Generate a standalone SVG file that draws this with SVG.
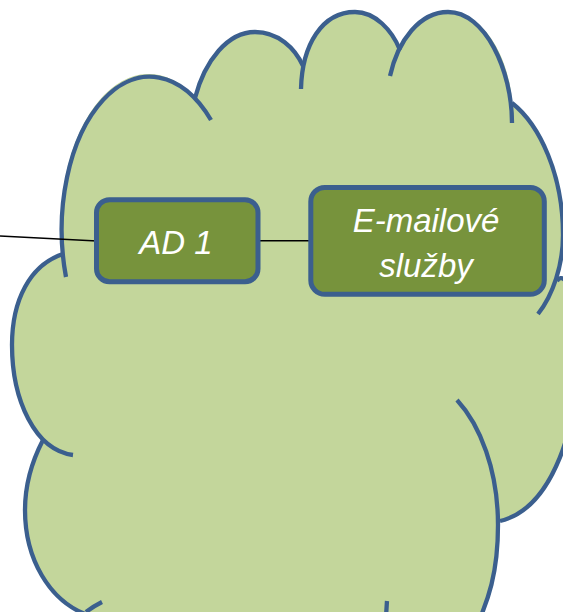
<svg xmlns="http://www.w3.org/2000/svg" width="563" height="612" viewBox="0 0 563 612">
<style>
.lobe{fill:none;stroke:#3B5F8E;stroke-width:4.3;stroke-linecap:butt}
.box{fill:#77933C;stroke:#3B5F8E;stroke-width:5}
.lbl{font-family:"Liberation Sans",Arial,sans-serif;font-style:italic;font-size:33px;fill:#FFFFFF;text-anchor:middle}
.conn{stroke:#000000;stroke-width:1.6;fill:none}
</style>
<g id="cloud">
<path d="M62,254 A88,153 0 0 1 195,97 C205,60 228,32 255,32 C278,32 295,48 303,65 C308,35 328,12 355,12 C375,12 392,30 400,50 C415,22 430,12 448,12 C485,12 510,60 512,103 C540,125 563,175 563,235 C563,255 560,270 557,281 C566,268 578,300 578,360 C578,420 555,508 500,521 C499,570 490,600 470,640 L90,640 L85,614 C50,600 25,560 25,510 C25,490 30,465 43,440 C25,425 12,390 12,345 C12,300 30,265 62,254 Z" fill="#C3D69B" stroke="none"/>
<path class="lobe" d="M66,277 A88,153 0 0 1 211,120"/>
<path class="lobe" d="M195,98 C205,60 228,32 255,32 C278,32 295,48 303,66"/>
<path class="lobe" d="M301,89 C302,45 322,12 355,12 C375,12 392,30 400,50"/>
<path class="lobe" d="M390,76 C398,40 420,12 448,12 C485,12 512,70 512,123"/>
<path class="lobe" d="M512,103 C540,125 563,175 563,235 C563,265 553,295 538,314"/>
<path class="lobe" d="M557,281 C566,268 578,300 578,360 C578,420 555,508 500,521"/>
<path class="lobe" d="M457,400 C480,425 498,470 498,525 C498,570 490,600 470,640"/>
<path class="lobe" d="M387,601 L386,616"/>
<path class="lobe" d="M63,254 C30,265 12,300 12,345 C12,400 35,450 73,455"/>
<path class="lobe" d="M43,440 C30,465 25,490 25,510 C25,560 50,600 85,614"/>
<path class="lobe" d="M102,602 Q94,606 86,612"/>
</g>
<g id="connectors">
<line class="conn" x1="0" y1="236" x2="97" y2="241"/>
<line class="conn" x1="258" y1="240.7" x2="311" y2="240.7"/>
</g>
<g id="node-ad1">
<rect class="box" x="96.5" y="199.7" width="161.5" height="82" rx="13"/>
<text class="lbl" x="176" y="254">AD 1</text>
</g>
<g id="node-email">
<rect class="box" x="310.8" y="187.5" width="233.5" height="106.8" rx="14"/>
<text class="lbl" x="426" y="231.7">E-mailové</text>
<text class="lbl" x="426" y="276.7">služby</text>
</g>
</svg>
